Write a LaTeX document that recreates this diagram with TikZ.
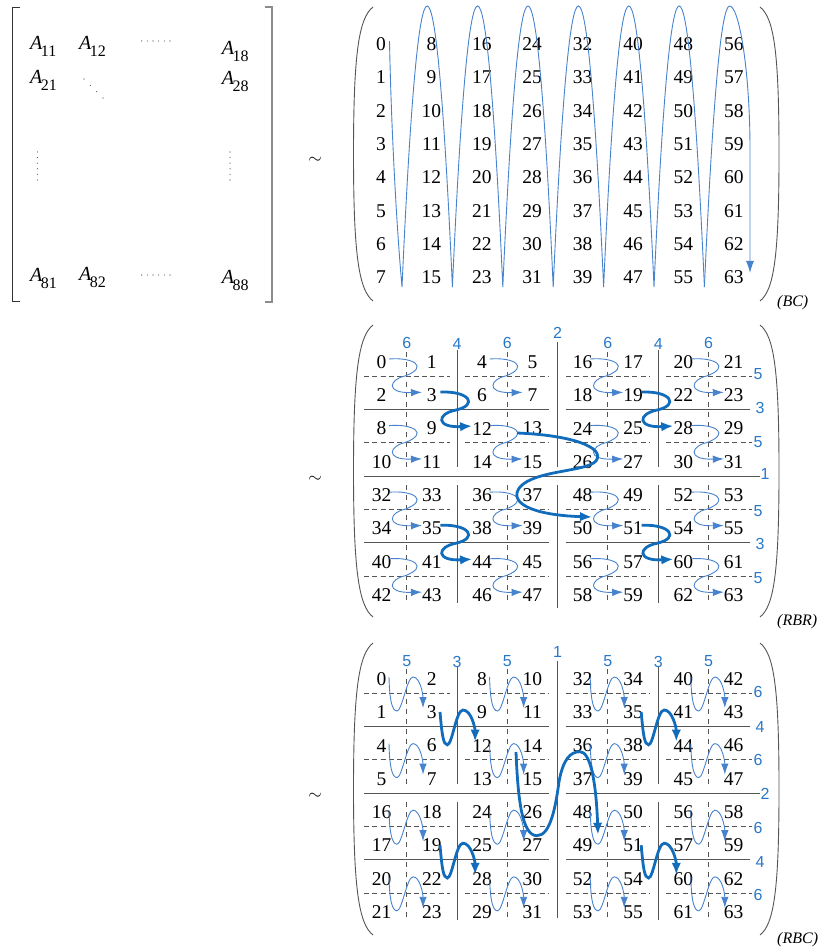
\documentclass[tikz,border=0pt]{standalone}
\usepackage{fontspec}
\setmainfont{Liberation Serif}
\newfontfamily\labfamily{Liberation Sans}
\usetikzlibrary{arrows.meta,calc}
\definecolor{thickblue}{RGB}{18,108,188}
\definecolor{thinblue}{RGB}{70,130,205}
\definecolor{labblue}{RGB}{40,120,200}
\definecolor{gridgray}{RGB}{85,85,85}
\newcommand{\numf}{\fontsize{19.5}{21}\selectfont}
\newcommand{\labf}{\labfamily\fontsize{16}{17}\selectfont}
\newcommand{\Aent}[1]{{\fontsize{20}{22}\selectfont\itshape A}\kern-1.5pt\raisebox{-7pt}{\fontsize{16}{18}\selectfont #1}}
\newcommand{\lpar}[2]{\draw[pare] (373,#1) .. controls (359,{#1+11}) and (353.5,{#1+45}) .. (353.5,{(#1+#2)/2}) .. controls (353.5,{#2-45}) and (359,{#2-11}) .. (373,#2);}
\newcommand{\rpar}[2]{\draw[pare] (760,#1) .. controls (774,{#1+11}) and (779,{#1+45}) .. (779,{(#1+#2)/2}) .. controls (779,{#2-45}) and (774,{#2-11}) .. (760,#2);}
\newcommand{\commongrid}{%
 \foreach \yy in {409,542.5} {\draw[grid] (364,\yy) -- (549,\yy); \draw[grid] (566,\yy) -- (750,\yy);}
 \foreach \xx in {457,658.2} {\draw[grid] (\xx,350) -- (\xx,467); \draw[grid] (\xx,485) -- (\xx,603);}
 \foreach \yy in {376,442.5,509.5,576} {\draw[dgrid] (364,\yy) -- (450,\yy); \draw[dgrid] (465,\yy) -- (549,\yy); \draw[dgrid] (566,\yy) -- (650,\yy); \draw[dgrid] (666,\yy) -- (752,\yy);}
 \foreach \xx in {406.7,507.3,607.8,708.5} {\draw[dgridv] (\xx,352) -- (\xx,467); \draw[dgridv] (\xx,485) -- (\xx,603);}
}
\begin{document}
\begin{tikzpicture}[x=1pt,y=-1pt,
  num/.style={font=\numf, inner sep=0.5pt},
  lab/.style={font=\labf, text=labblue, inner sep=0pt},
  grid/.style={draw=gridgray, line width=0.9pt},
  dgrid/.style={draw=gridgray, line width=0.8pt, dash pattern=on 5pt off 3.3pt},
  dgridv/.style={draw=gridgray, line width=0.8pt, dash pattern=on 5pt off 5pt},
  thinarr/.style={draw=thinblue, line width=0.9pt, -{Latex[length=11pt,width=7.5pt]}},
  thickarr/.style={draw=thickblue, line width=2.8pt, -{Latex[length=12pt,width=9.5pt]}},
  bcline/.style={draw=thinblue, line width=0.9pt},
  pare/.style={draw=gridgray, line width=0.9pt},
  brk/.style={draw=black!80, line width=0.8pt},
  brkb/.style={draw=black!45, line width=1.6pt},
  dotf/.style={fill=black!80},
  tag/.style={font=\fontsize{16}{18}\selectfont\itshape, anchor=west, inner sep=0pt},
  ent/.style={anchor=base west, inner sep=0pt},
  tld/.style={font=\fontsize{17}{17}\selectfont, inner sep=0pt},
]
\useasboundingbox (0,0) rectangle (817,949);

% ---------- left matrix ----------
\draw[brk] (20,7) -- (12.7,7) -- (12.7,301.7) -- (20,301.7);
\draw[brkb] (265,7) -- (271.7,7) -- (271.7,301.7) -- (265,301.7);
\node[ent] (a11) at (30,50) {\Aent{11}};
\node[ent] (a12) at (79,50) {\Aent{12}};
\node[ent] (a18) at (221.7,55) {\Aent{18}};
\node[ent] (a21) at (30,83.3) {\Aent{21}};
\node[ent] (a28) at (221.7,85) {\Aent{28}};
\node[ent] (a81) at (30,281.7) {\Aent{81}};
\node[ent] (a82) at (79,280) {\Aent{82}};
\node[ent] (a88) at (221.7,283.3) {\Aent{88}};
\foreach \t in {0,...,5} {\fill[dotf] ({141.7+\t*5.66},41) circle (0.55pt); \fill[dotf] ({141.7+\t*5.66},275) circle (0.55pt);}
\foreach \t in {0,...,3} \fill[dotf] ({84+\t*6.33},{79+\t*6.33}) circle (0.55pt);
\foreach \t in {0,...,5} {\fill[dotf] (37.3,{152+\t*5.6}) circle (0.55pt); \fill[dotf] (230,{152+\t*5.6}) circle (0.55pt);}

% ---------- tildes ----------
\node[tld] (t1) at (315,160) {$\sim$};
\node[tld] (t2) at (315,479) {$\sim$};
\node[tld] (t3) at (315,796) {$\sim$};

% ---------- BC ----------
\lpar{7}{301}
\rpar{7}{301}
\foreach \k in {0,...,7} \foreach \i in {0,...,7} {
  \pgfmathtruncatemacro\n{8*\k+\i}
  \node[num] (bc\n) at ({381+50.4*\k},{44+33.35*\i}) {\n};
}
\draw[bcline] ($(bc0)+(8.5,-3)$) .. controls (391,120) and (396,220) .. (402,287)
  \foreach \i in {0,...,5} { .. controls ({402+50.4*\i+16.8},-87.7) and ({402+50.4*(\i+1)-16.8},-87.7) .. ({402+50.4*(\i+1)},287) };
\draw[bcline,-{Latex[length=12pt,width=8pt]}] (704.4,287) .. controls (712.8,99.7) and (721.2,6) .. (729.6,6) .. controls (739,6) and (750,70) .. (750,150) -- ($(bc63)+(16.2,-4.5)$);
\node[tag] (tbc) at (777,303) {(BC)};

% ---------- RBR ----------
\lpar{325}{617}
\rpar{325}{617}
\commongrid
\draw[grid] (364,476) -- (760,476);
\draw[grid] (557.5,342) -- (557.5,467);
\draw[grid] (557.5,485) -- (557.5,608);
\node[lab] (rl1) at (406.7,343) {6};
\node[lab] (rl2) at (457,344) {4};
\node[lab] (rl3) at (507.3,343) {6};
\node[lab] (rl4) at (557.5,333) {2};
\node[lab] (rl5) at (607.8,343) {6};
\node[lab] (rl6) at (658.2,344) {4};
\node[lab] (rl7) at (708.5,343) {6};
\node[lab] (rr1) at (758,374) {5};
\node[lab] (rr2) at (760,408) {3};
\node[lab] (rr3) at (758,442) {5};
\node[lab] (rr4) at (765,474) {1};
\node[lab] (rr5) at (758,511) {5};
\node[lab] (rr6) at (760,544) {3};
\node[lab] (rr7) at (758,578) {5};
\foreach \row [count=\i from 0] in {{0,1,4,5,16,17,20,21},{2,3,6,7,18,19,22,23},{8,9,12,13,24,25,28,29},{10,11,14,15,26,27,30,31},{32,33,36,37,48,49,52,53},{34,35,38,39,50,51,54,55},{40,41,44,45,56,57,60,61},{42,43,46,47,58,59,62,63}} {
  \foreach \v [count=\k from 0] in \row {
    \node[num] (r\v) at ({381.5+50.3*\k},{362+33.3*\i}) {\v};
  }
}
\foreach \n in {0,4,...,60} {
  \pgfmathtruncatemacro\m{\n+3}
  \draw[thinarr] ($(r\n)+(7.5,-3)$) .. controls +(25,-2) and +(24,-9) .. ($(r\n)+(23.5,14)$) .. controls +(-15,3) and +(-38,1) .. ($(r\m)+(-9.8,-3)$);
}
\foreach \a/\b in {3/12,19/28,35/44,51/60}
  \draw[thickarr] ($(r\a)+(8.5,-3.3)$) .. controls +(30,-1) and +(22,-5) .. ($(r\a)+(24.2,14.7)$) .. controls +(-20,4) and +(-36,2) .. ($(r\b)+(-10,-2.6)$);
\draw[thickarr] ($(r13)+(-15.4,4.4)$) .. controls +(53,2) and +(10,-14) .. ($(r13)+(63.6,32.4)$) .. controls +(-10,11) and +(15,-17) .. ($(r50)+(-62.7,-41.5)$) .. controls +(-12,15) and +(-62,-2) .. ($(r50)+(9.3,-11.5)$);
\node[tag] (trbr) at (777,622) {(RBR)};

% ---------- RBC ----------
\lpar{643}{935}
\rpar{643}{935}
\begin{scope}[shift={(0,317)}]
\commongrid
\draw[grid] (557.5,344) -- (557.5,601);
\draw[grid] (364,476.5) -- (549,476.5);
\draw[grid] (566,476.5) -- (760,476.5);
\end{scope}
\node[lab] (cl1) at (406.7,661) {5};
\node[lab] (cl2) at (457,662) {3};
\node[lab] (cl3) at (507.3,661) {5};
\node[lab] (cl4) at (557.5,652) {1};
\node[lab] (cl5) at (607.8,661) {5};
\node[lab] (cl6) at (658.2,662) {3};
\node[lab] (cl7) at (708.5,661) {5};
\node[lab] (cr1) at (758,692) {6};
\node[lab] (cr2) at (760,727) {4};
\node[lab] (cr3) at (758,760) {6};
\node[lab] (cr4) at (765,794) {2};
\node[lab] (cr5) at (758,828) {6};
\node[lab] (cr6) at (760,862) {4};
\node[lab] (cr7) at (758,895) {6};
\foreach \row [count=\i from 0] in {{0,2,8,10,32,34,40,42},{1,3,9,11,33,35,41,43},{4,6,12,14,36,38,44,46},{5,7,13,15,37,39,45,47},{16,18,24,26,48,50,56,58},{17,19,25,27,49,51,57,59},{20,22,28,30,52,54,60,62},{21,23,29,31,53,55,61,63}} {
  \foreach \v [count=\k from 0] in \row {
    \node[num] (c\v) at ({381.5+50.3*\k},{679+33.3*\i}) {\v};
  }
}
\foreach \n in {0,4,...,60} {
  \pgfmathtruncatemacro\m{\n+3}
  \draw[thinarr] ($(c\n)+(7.5,-2)$) .. controls +(0.5,23) and +(-5,0) .. ($(c\n)+(15.5,32)$) .. controls +(5,0) and +(-6,0) .. ($(c\n)+(31.5,-2)$) .. controls +(7,0) and +(0,-14) .. ($(c\m)+(-8.8,-4.3)$);
}
\foreach \a/\b in {3/12,35/44,19/28,51/60}
  \draw[thickarr] ($(c\a)+(8.2,-0.3)$) .. controls +(2,23) and +(-4,0) .. ($(c\a)+(15.5,32.5)$) .. controls +(5,0) and +(-7,0) .. ($(c\a)+(31.2,-2.3)$) .. controls +(8,0) and +(0,-14) .. ($(c\b)+(-7,-4)$);
\draw[thickarr] ($(c14)+(-16.4,6.4)$) .. controls +(2,48) and +(-15,0) .. ($(c49)+(-45.7,-9.8)$) .. controls +(14,0) and +(-3,22) .. ($(c49)+(-23.7,-63.8)$) .. controls +(4,-22) and +(-10,0) .. ($(c49)+(-2.7,-93.8)$) .. controls +(10,0) and +(-2,-55) .. ($(c49)+(15.3,-10.8)$);
\node[tag] (trbc) at (777,940) {(RBC)};
\end{tikzpicture}
\end{document}
